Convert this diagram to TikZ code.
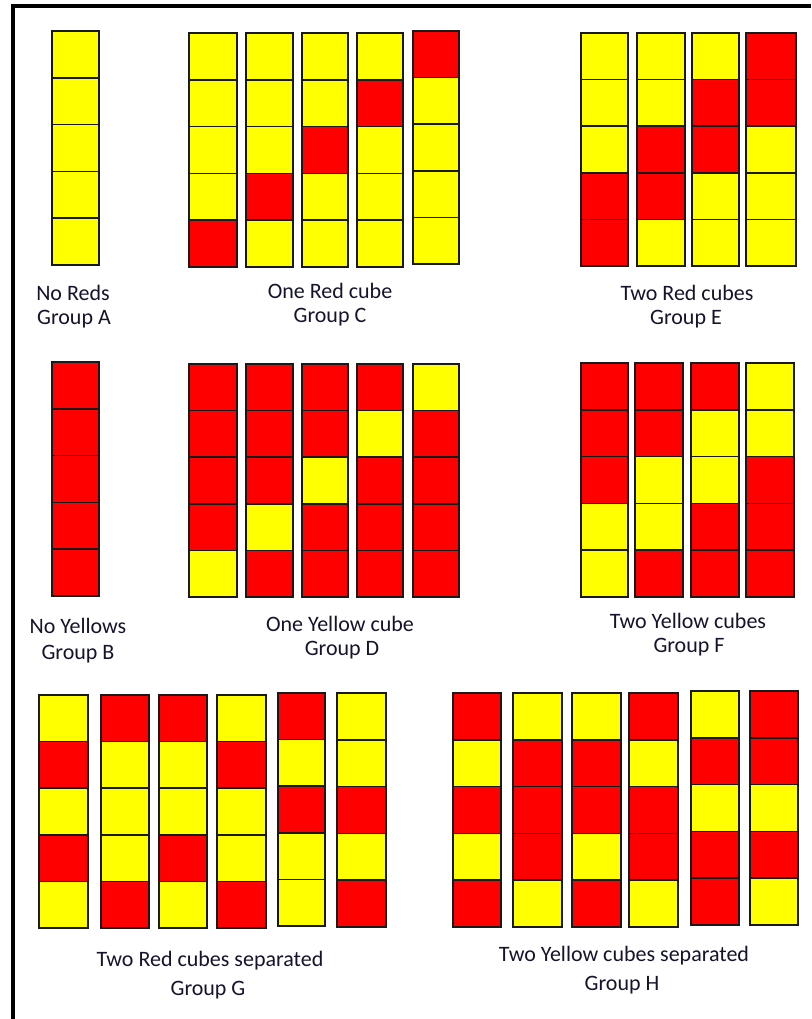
\documentclass[tikz,border=0pt]{standalone}
\usepackage{fontspec}
\setmainfont{Carlito}
\definecolor{cR}{RGB}{255,0,0}
\definecolor{cY}{RGB}{255,255,0}
\definecolor{txt}{RGB}{20,20,45}
\newcommand{\cubecol}[5]{%
  \foreach \cc [count=\ii from 0] in {#5} {%
    \pgfmathsetmacro{\ya}{#3+(#4-#3)*\ii/5}%
    \pgfmathsetmacro{\yb}{#3+(#4-#3)*(\ii+1)/5}%
    \filldraw[cell, fill=\cc] (#1,\ya) rectangle (#2,\yb);
  }}
\begin{document}
\begin{tikzpicture}[x=1pt,y=-1pt,
  cell/.style={draw=black!90,line width=1.6pt},
  lbl/.style={font=\fontsize{22}{26}\selectfont, text=txt, inner sep=0pt, anchor=center}]
\useasboundingbox (0,0) rectangle (811,1019);
\fill[white] (0,0) rectangle (811,1019);
\draw[line width=4pt] (12.5,1019) -- (12.5,6.5) -- (811,6.5);
% Group A
\cubecol{52}{99}{31}{265}{cY,cY,cY,cY,cY}
% Group C
\cubecol{189}{237}{33}{267}{cY,cY,cY,cY,cR}
\cubecol{246}{293}{33}{267}{cY,cY,cY,cR,cY}
\cubecol{302}{348}{33}{267}{cY,cY,cR,cY,cY}
\cubecol{357}{403}{33}{267}{cY,cR,cY,cY,cY}
\cubecol{413}{459}{31}{264}{cR,cY,cY,cY,cY}
% Group E
\cubecol{581}{628}{33}{266}{cY,cY,cY,cR,cR}
\cubecol{637}{685}{33}{266}{cY,cY,cR,cR,cY}
\cubecol{692}{739}{33}{266}{cY,cR,cR,cY,cY}
\cubecol{746}{796}{33}{266}{cR,cR,cY,cY,cY}
% Group B
\cubecol{52}{99}{362}{596}{cR,cR,cR,cR,cR}
% Group D
\cubecol{189}{237}{364}{597}{cR,cR,cR,cR,cY}
\cubecol{246}{293}{364}{597}{cR,cR,cR,cY,cR}
\cubecol{302}{348}{364}{597}{cR,cR,cY,cR,cR}
\cubecol{357}{403}{364}{597}{cR,cY,cR,cR,cR}
\cubecol{413}{459}{364}{597}{cY,cR,cR,cR,cR}
% Group F
\cubecol{581}{628}{363}{597}{cR,cR,cR,cY,cY}
\cubecol{635}{683}{363}{597}{cR,cR,cY,cY,cR}
\cubecol{691}{739}{363}{597}{cR,cY,cY,cR,cR}
\cubecol{746}{794}{363}{597}{cY,cY,cR,cR,cR}
% Group G
\cubecol{39}{88}{695}{928}{cY,cR,cY,cR,cY}
\cubecol{101}{149}{695}{928}{cR,cY,cY,cY,cR}
\cubecol{159}{207}{695}{928}{cR,cY,cY,cR,cY}
\cubecol{217}{266}{695}{928}{cY,cR,cY,cY,cR}
\cubecol{278}{325}{693}{926}{cR,cY,cR,cY,cY}
\cubecol{337}{386}{693}{927}{cY,cY,cR,cY,cR}
% Group H
\cubecol{453}{501}{693}{927}{cR,cY,cR,cY,cR}
\cubecol{513}{562}{693}{927}{cY,cR,cR,cR,cY}
\cubecol{572}{621}{693}{927}{cY,cR,cR,cY,cR}
\cubecol{629}{678}{693}{927}{cR,cY,cR,cR,cY}
\cubecol{691}{739}{691}{925}{cY,cR,cY,cR,cR}
\cubecol{750}{798}{691}{925}{cR,cR,cY,cR,cY}
% Labels
\node[lbl] (la1) at (73,293) {No Reds};
\node[lbl] (la2) at (74,319) {Group A};
\node[lbl] (lc1) at (330,291) {One Red cube};
\node[lbl] (lc2) at (330,317) {Group C};
\node[lbl] (le1) at (687,293) {Two Red cubes};
\node[lbl] (le2) at (686,319) {Group E};
\node[lbl] (lb1) at (78,626) {No Yellows};
\node[lbl] (lb2) at (78,654) {Group B};
\node[lbl] (ld1) at (340,624) {One Yellow cube};
\node[lbl] (ld2) at (342,650) {Group D};
\node[lbl] (lf1) at (688,621) {Two Yellow cubes};
\node[lbl] (lf2) at (689,647) {Group F};
\node[lbl] (lg1) at (210,961) {Two Red cubes separated};
\node[lbl] (lg2) at (208,990) {Group G};
\node[lbl] (lh1) at (624,956) {Two Yellow cubes separated};
\node[lbl] (lh2) at (622,985) {Group H};
\end{tikzpicture}
\end{document}
